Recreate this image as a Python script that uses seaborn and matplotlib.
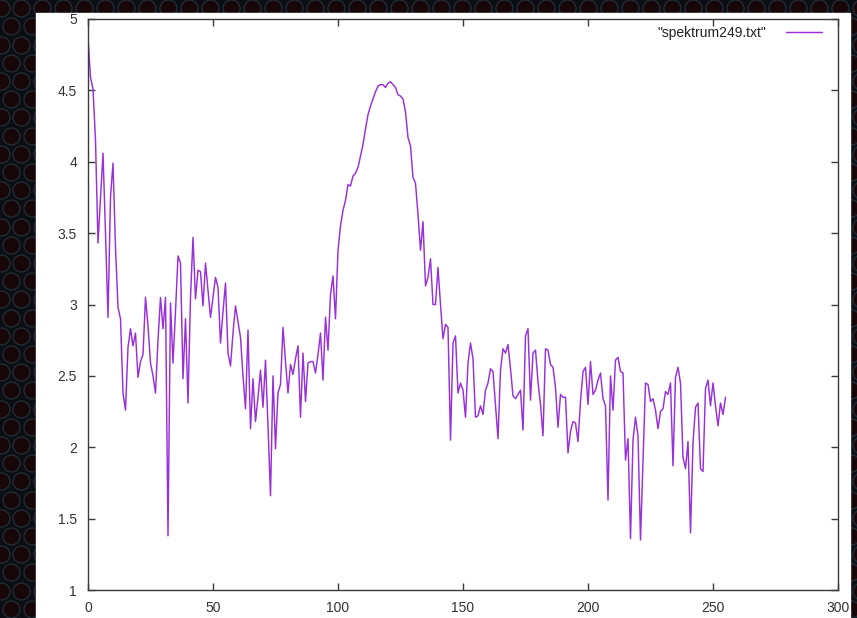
import numpy as np
import pandas as pd
import matplotlib
matplotlib.use("Agg")
import matplotlib.pyplot as plt
import seaborn as sns

# Spectrum intensities, one value per channel (0..255)
channels = list(range(256))
intensity = [
    4.87, 4.59, 4.51, 4.15, 3.43, 3.75, 4.06, 3.50, 2.91, 3.75,
    3.99, 3.40, 2.98, 2.90, 2.38, 2.26, 2.70, 2.83, 2.71, 2.80,
    2.49, 2.60, 2.65, 3.05, 2.85, 2.59, 2.50, 2.38, 2.75, 3.05,
    2.83, 3.05, 1.38, 3.01, 2.59, 2.95, 3.34, 3.29, 2.48, 2.90,
    2.31, 3.05, 3.47, 3.04, 3.24, 3.23, 2.99, 3.29, 3.10, 2.91,
    3.05, 3.19, 3.12, 2.73, 2.95, 3.15, 2.66, 2.57, 2.80, 2.99,
    2.88, 2.77, 2.50, 2.27, 2.82, 2.13, 2.48, 2.18, 2.35, 2.54,
    2.28, 2.61, 2.15, 1.66, 2.50, 1.99, 2.38, 2.44, 2.84, 2.60,
    2.38, 2.58, 2.51, 2.62, 2.71, 2.21, 2.66, 2.32, 2.59, 2.60,
    2.60, 2.52, 2.65, 2.80, 2.47, 2.91, 2.68, 3.07, 3.20, 2.90,
    3.38, 3.55, 3.66, 3.73, 3.84, 3.83, 3.90, 3.92, 3.96, 4.04,
    4.12, 4.23, 4.33, 4.39, 4.44, 4.49, 4.53, 4.54, 4.54, 4.52,
    4.55, 4.56, 4.54, 4.52, 4.47, 4.46, 4.44, 4.35, 4.17, 4.11,
    3.89, 3.85, 3.63, 3.38, 3.58, 3.13, 3.19, 3.32, 3.00, 3.00,
    3.26, 3.00, 2.76, 2.86, 2.84, 2.05, 2.73, 2.78, 2.38, 2.45,
    2.40, 2.21, 2.59, 2.73, 2.62, 2.21, 2.22, 2.29, 2.23, 2.40,
    2.45, 2.55, 2.53, 2.30, 2.06, 2.54, 2.69, 2.66, 2.72, 2.55,
    2.36, 2.34, 2.37, 2.40, 2.12, 2.78, 2.83, 2.33, 2.66, 2.68,
    2.46, 2.30, 2.08, 2.69, 2.68, 2.58, 2.56, 2.42, 2.14, 2.37,
    2.35, 2.35, 1.96, 2.11, 2.18, 2.17, 2.04, 2.32, 2.53, 2.56,
    2.30, 2.60, 2.37, 2.40, 2.47, 2.52, 2.34, 2.29, 1.63, 2.50,
    2.26, 2.61, 2.63, 2.53, 2.52, 1.91, 2.06, 1.36, 2.05, 2.21,
    2.08, 1.35, 1.90, 2.45, 2.44, 2.32, 2.34, 2.26, 2.13, 2.25,
    2.27, 2.39, 2.37, 2.45, 1.87, 2.49, 2.56, 2.45, 1.93, 1.85,
    2.04, 1.40, 2.03, 2.28, 2.31, 1.85, 1.83, 2.41, 2.47, 2.29,
    2.45, 2.29, 2.15, 2.31, 2.23, 2.35,
]
series_label = '"spektrum249.txt"'
x_ticks = [0, 50, 100, 150, 200, 250, 300]
y_ticks = [1, 1.5, 2, 2.5, 3, 3.5, 4, 4.5, 5]

df = pd.DataFrame({"channel": channels, "value": intensity})

sns.set_style("white")
plt.rcParams["font.family"] = ["Liberation Sans", "DejaVu Sans"]

W, H = 857, 618
fig = plt.figure(figsize=(W / 100, H / 100), dpi=100)

# Dark perforated-metal backdrop
bg = fig.add_axes([0, 0, 1, 1])
bg.set_xlim(0, W)
bg.set_ylim(H, 0)
bg.axis("off")
bg.add_patch(plt.Rectangle((0, 0), W, H, color="#0b0e12", zorder=0))
pitch_x, pitch_y = 21.0, 18.2
cx, cy = [], []
for r, yy in enumerate(np.arange(-10, H + 20, pitch_y)):
    off = 0 if r % 2 == 0 else pitch_x / 2
    for xx in np.arange(-10 + off, W + 20, pitch_x):
        cx.append(xx)
        cy.append(yy)
bg.scatter(cx, cy, s=150, facecolor="#170709", edgecolor="#222c35",
           linewidth=1.0, zorder=1)

# White plotting window
panel_l, panel_r, panel_t = 36, 850, 13
fig.add_artist(plt.Rectangle((panel_l / W, 0), (panel_r - panel_l) / W,
                             (H - panel_t) / H, transform=fig.transFigure,
                             color="white", zorder=1))

ax = fig.add_axes([88 / W, (H - 590) / H, (838 - 88) / W, (590 - 19) / H])
ax.set_facecolor("white")
ax.set_zorder(2)

sns.lineplot(data=df, x="channel", y="value", ax=ax, color="#9a2fdc",
             linewidth=1.05, label=series_label)

ax.set_xlim(0, 300)
ax.set_ylim(1, 5)
ax.set_xticks(x_ticks)
ax.set_yticks(y_ticks)
ax.set_xticklabels([f"{t:g}" for t in x_ticks])
ax.set_yticklabels([f"{t:g}" for t in y_ticks])
ax.set_xlabel("")
ax.set_ylabel("")
for s in ax.spines.values():
    s.set_visible(True)
    s.set_color("#3a3a3a")
    s.set_linewidth(1.0)
ax.tick_params(direction="in", length=5, width=1, color="#3a3a3a",
               labelcolor="#333333", labelsize=10,
               top=True, right=True, bottom=True, left=True)
ax.tick_params(axis="x", pad=8)
ax.tick_params(axis="y", pad=8)

leg = ax.legend(loc="upper right", bbox_to_anchor=(0.988, 1.0),
                frameon=False, markerfirst=False, handlelength=2.6,
                handletextpad=1.4, fontsize=10, borderaxespad=0.1)
for t in leg.get_texts():
    t.set_color("#222222")

fig.savefig("out.png", dpi=100)
